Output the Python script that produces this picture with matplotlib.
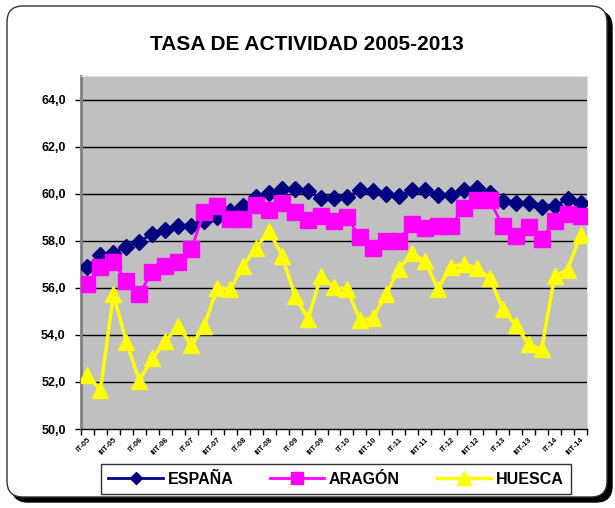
import numpy as np
import matplotlib
matplotlib.use("Agg")
import matplotlib.pyplot as plt
from matplotlib.patches import FancyBboxPatch
from matplotlib.transforms import IdentityTransform

# quarters from 2005 Q1 to 2014 Q3
years = list(range(2005, 2015))
quarter_labels = []
for y in years:
    for q in ["I", "II", "III", "IV"]:
        quarter_labels.append(f"{q}T-{str(y)[2:]}")
quarter_labels = quarter_labels[:39]

espana = [56.9, 57.4, 57.5, 57.75, 57.96, 58.3, 58.46, 58.62, 58.61, 58.85,
          59.0, 59.27, 59.48, 59.87, 60.04, 60.18, 60.18, 60.1, 59.8, 59.8,
          59.85, 60.15, 60.11, 60.0, 59.88, 60.15, 60.15, 59.95, 59.95, 60.14,
          60.25, 60.03, 59.7, 59.6, 59.6, 59.45, 59.48, 59.76, 59.62]
aragon = [56.17, 56.9, 57.1, 56.28, 55.75, 56.68, 56.94, 57.11, 57.65, 59.23,
          59.48, 58.92, 58.92, 59.5, 59.3, 59.6, 59.24, 58.87, 59.03, 58.83,
          59.01, 58.14, 57.69, 58.0, 58.0, 58.73, 58.56, 58.63, 58.63, 59.38,
          59.72, 59.72, 58.63, 58.21, 58.59, 58.07, 58.85, 59.15, 59.03]
huesca = [52.3, 51.65, 55.72, 53.69, 52.06, 53.0, 53.73, 54.38, 53.55, 54.38,
          56.01, 55.94, 56.92, 57.7, 58.42, 57.35, 55.65, 54.68, 56.5, 56.02,
          55.96, 54.62, 54.73, 55.72, 56.8, 57.48, 57.13, 55.96, 56.87, 57.03,
          56.83, 56.42, 55.11, 54.41, 53.61, 53.39, 56.49, 56.77, 58.24]

y_ticks = [50, 52, 54, 56, 58, 60, 62, 64]

plt.rcParams['font.family'] = ['Liberation Sans', 'DejaVu Sans']
plt.rcParams['font.weight'] = 'bold'

W, H = 615, 508
fig = plt.figure(figsize=(W / 100, H / 100), dpi=100)

# rounded outer frame with a dark shadow
shadow = FancyBboxPatch((12, 6), 600, 491, boxstyle="round,pad=0,rounding_size=16",
                        transform=IdentityTransform(), facecolor='black',
                        edgecolor='black', zorder=0)
panel = FancyBboxPatch((7, 11), 600, 491, boxstyle="round,pad=0,rounding_size=16",
                       transform=IdentityTransform(), facecolor='white',
                       edgecolor='#333333', linewidth=1.0, zorder=1)
fig.patches.extend([shadow, panel])

ax = fig.add_axes([81 / W, 79 / H, 506 / W, 353 / H])
ax.set_facecolor('#C0C0C0')
ax.set_zorder(2)

x = np.arange(len(quarter_labels))
ax.plot(x, espana, color='#000080', lw=2, marker='D', ms=8, mec='#000080',
        label='ESPAÑA', zorder=3)
ax.plot(x, aragon, color='#FF00FF', lw=2, marker='s', ms=11, mec='#FF00FF',
        label='ARAGÓN', zorder=4)
ax.plot(x, huesca, color='#FFFF00', lw=2.5, marker='^', ms=12, mec='#FFFF00',
        label='HUESCA', zorder=5)

ax.set_xlim(-0.5, len(x) - 0.5)
ax.set_ylim(50, 65)
ax.set_yticks(y_ticks)
ax.set_yticklabels([f"{v:.1f}".replace('.', ',') for v in y_ticks], fontsize=9,
                   fontweight='bold')
for v in y_ticks[1:]:
    ax.axhline(v, color='black', lw=1, zorder=1)

ax.set_xticks(np.arange(len(x) + 1) - 0.5)
ax.set_xticklabels([])
ax.set_xticks(x[::2], minor=True)
ax.set_xticklabels(quarter_labels[::2], minor=True, rotation=45, ha='right',
                   va='top', rotation_mode='anchor', fontsize=5.5, fontweight='bold')
ax.tick_params(axis='x', which='minor', length=0, pad=5)
ax.tick_params(axis='x', which='major', length=4, width=1, direction='out')
ax.tick_params(axis='y', length=4, width=1, pad=7)

ax.spines['left'].set_color('#808080')
ax.spines['left'].set_linewidth(2)
ax.spines['bottom'].set_color('black')
ax.spines['bottom'].set_linewidth(1)
ax.spines['top'].set_color('#D8E0E8')
ax.spines['right'].set_color('#D8E0E8')

fig.text(307 / W, 1 - 45 / H, 'TASA DE ACTIVIDAD 2005-2013', ha='center',
         va='center', fontsize=15, fontweight='bold')

handles, labels = ax.get_legend_handles_labels()
leg = fig.legend(handles, labels, loc='center', bbox_to_anchor=(336 / W, 1 - 479 / H),
                 ncol=3, frameon=True, fancybox=False, edgecolor='black',
                 prop={'size': 11.5, 'weight': 'bold'}, handlelength=3.4,
                 handletextpad=0.3, columnspacing=2.3, borderpad=0.45,
                 markerscale=0.8)
leg.get_frame().set_linewidth(1)
leg.set_zorder(3)

fig.savefig('out.png', dpi=100)
